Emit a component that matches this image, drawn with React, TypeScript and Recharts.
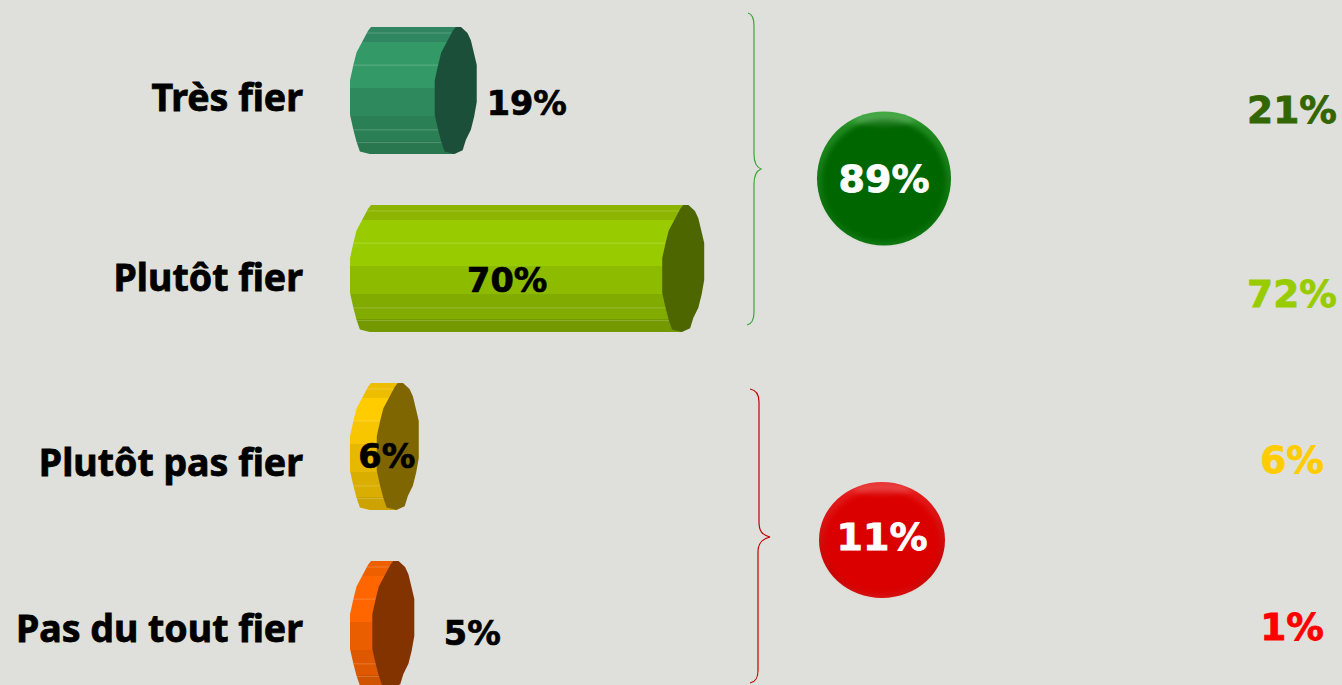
import React from 'react';
import { BarChart, Bar, XAxis, YAxis, LabelList } from 'recharts';

const categories = ['Très fier', 'Plutôt fier', 'Plutôt pas fier', 'Pas du tout fier'];
const currentValues = [19, 70, 6, 5];
const previousValues = [21, 72, 6, 1];
const groupTotals = [89, 11];

const data = categories.map((name, i) => ({
  name,
  value: currentValues[i],
  previous: `${previousValues[i]}%`,
}));

const FONT = '"DejaVu Sans", Verdana, sans-serif';
const LABEL_FONT = '"Noto Sans", Tahoma, sans-serif';
const BG = '#DFE0DB';

const previousColors = ['#336600', '#99CC00', '#FFCC00', '#FF0000'];
const capColors = ['#1C4F39', '#4D6600', '#806600', '#833300'];
const bodyStops = [
  ['#2F8660', '#339966', '#339966', '#2E8A5C', '#2B7F55', '#29774F'],
  ['#8DB500', '#99CC00', '#99CC00', '#8DBB00', '#82AB00', '#749800'],
  ['#EDBE00', '#FFCC00', '#F7C600', '#E6B800', '#D9AE00', '#CCA300'],
  ['#EE5F00', '#FF6600', '#FF6600', '#EB5E00', '#DE5800', '#D05300'],
];
const bandOffsets = [0, 0.12, 0.3, 0.48, 0.7, 0.9, 1];
const highlightLines = [0.047, 0.3, 0.81, 0.91];

// Outline of the faceted cylinder end, normalised (u: -1..1, v: 0..1)
const capOutline: [number, number][] = [
  [0, 0], [0.25, 0], [0.56, 0.047], [0.72, 0.105], [0.875, 0.21], [1, 0.3], [1, 0.59], [0.875, 0.707],
  [0.72, 0.81], [0.48, 0.89], [0.33, 0.97], [-0.06, 1], [-0.53, 0.98], [-0.69, 0.903], [-0.84, 0.81],
  [-1, 0.69], [-1, 0.42], [-0.84, 0.3], [-0.69, 0.2], [-0.38, 0.105], [-0.14, 0.03],
];
const leftFrom = 11; // index where the left half of the outline begins
const CAP_RX = 21;

const tickOffsets = [8, 10, 17, 5];
const previousOffsets = [20, 26, 14, 3];
const valueLabelOffsets = [
  { dx: 71, dy: 12 },
  { dx: -176, dy: 11 },
  { dx: -11, dy: 9 },
  { dx: 79, dy: 8 },
];

const Cylinder = (props: any) => {
  const { x, y, width, height, index } = props;
  const xr = x + width;
  const pt = (cx: number, [u, v]: [number, number]) => `${cx + u * CAP_RX},${y + v * height}`;
  const leftHalf = capOutline.slice(leftFrom).map((p) => pt(x, p));
  const bodyPts = [...leftHalf, pt(x, capOutline[0]), pt(xr, capOutline[0]), `${xr},${y + height / 2}`, pt(xr, capOutline[leftFrom])];
  const capPts = capOutline.map((p) => pt(xr, p));
  const leftEdge = (v: number) => {
    const pts = [...capOutline.slice(leftFrom), capOutline[0]];
    for (let i = 0; i < pts.length - 1; i++) {
      const a = pts[i], b = pts[i + 1];
      if (a[1] >= v && b[1] <= v) {
        const t = a[1] === b[1] ? 0 : (v - a[1]) / (b[1] - a[1]);
        return x + (a[0] + (b[0] - a[0]) * t) * CAP_RX;
      }
    }
    return x - CAP_RX;
  };
  return (
    <g>
      <polygon points={bodyPts.join(' ')} fill={`url(#body${index})`} />
      {highlightLines.map((v) => (
        <line key={v} x1={leftEdge(v)} x2={xr} y1={y + v * height} y2={y + v * height} stroke="#fff" strokeOpacity={0.2} strokeWidth={1} />
      ))}
      <polygon points={capPts.join(' ')} fill={capColors[index]} />
    </g>
  );
};

const CategoryTick = (props: any) => {
  const { y, payload, index } = props;
  return (
    <text x={303} y={y + tickOffsets[index]} dy={13} textAnchor="end" fontFamily={LABEL_FONT} fontWeight={700} fontSize={37.5} fill="#000" stroke="#000" strokeWidth={0.8}>
      {payload.value}
    </text>
  );
};

const PreviousTick = (props: any) => {
  const { y, payload, index } = props;
  const c = previousColors[index];
  return (
    <text x={1292} y={y + previousOffsets[index]} dy={13} textAnchor="middle" fontFamily={FONT} fontWeight={700} fontSize={37.5} fill={c} stroke={c} strokeWidth={0.8}>
      {payload.value}
    </text>
  );
};

const ValueLabel = (props: any) => {
  const { x, y, width, height, value, index } = props;
  const o = valueLabelOffsets[index];
  return (
    <text x={x + width + o.dx} y={y + height / 2 + o.dy} dy={12} textAnchor="middle" fontFamily={FONT} fontWeight={700} fontSize={33.5} fill="#000" stroke="#000" strokeWidth={0.7}>
      {value}%
    </text>
  );
};

const Badge = ({ id, cx, cy, rx, ry, value, textDy }: any) => (
  <g>
    <ellipse cx={cx} cy={cy} rx={rx} ry={ry} fill={`url(#${id}Rim)`} />
    <ellipse cx={cx} cy={cy + 2} rx={rx - 5} ry={ry - 6} fill={`url(#${id}Core)`} filter="url(#soft)" />
    <ellipse cx={cx} cy={cy - ry * 0.87} rx={rx * 0.45} ry={ry * 0.08} fill="#fff" fillOpacity={0.14} filter="url(#soft)" />
    <text x={cx} y={cy + textDy} textAnchor="middle" fontFamily={FONT} fontWeight={700} fontSize={38} fill="#fff" stroke="#fff" strokeWidth={0.8}>
      {value}%
    </text>
  </g>
);

export default function App() {
  return (
    <div style={{ position: 'absolute', left: 0, top: 0, width: 1342, height: 685, overflow: 'hidden', background: BG }}>
      <BarChart
        width={1342}
        height={720}
        data={data}
        layout="vertical"
        margin={{ top: 1, right: 0, bottom: 7, left: 0 }}
        barSize={127}
      >
        <defs>
          {bodyStops.map((stops, i) => (
            <linearGradient key={i} id={`body${i}`} x1="0" y1="0" x2="0" y2="1">
              {stops.map((c, j) => (
                <React.Fragment key={j}>
                  <stop offset={bandOffsets[j]} stopColor={c} />
                  <stop offset={bandOffsets[j + 1]} stopColor={c} />
                </React.Fragment>
              ))}
            </linearGradient>
          ))}
          <linearGradient id="greenRim" x1="0" y1="0" x2="0" y2="1">
            <stop offset="0" stopColor="#3FA83F" />
            <stop offset="0.12" stopColor="#1F8A1F" />
            <stop offset="0.8" stopColor="#0B6F0B" />
            <stop offset="1" stopColor="#0F7A14" />
          </linearGradient>
          <linearGradient id="greenCore" x1="0" y1="0" x2="0" y2="1">
            <stop offset="0" stopColor="#056605" />
            <stop offset="1" stopColor="#056605" />
          </linearGradient>
          <linearGradient id="redRim" x1="0" y1="0" x2="0" y2="1">
            <stop offset="0" stopColor="#E83030" />
            <stop offset="0.12" stopColor="#E31818" />
            <stop offset="0.8" stopColor="#C40404" />
            <stop offset="1" stopColor="#D81212" />
          </linearGradient>
          <linearGradient id="redCore" x1="0" y1="0" x2="0" y2="1">
            <stop offset="0" stopColor="#DB0505" />
            <stop offset="1" stopColor="#DB0505" />
          </linearGradient>
          <filter id="soft" x="-20%" y="-50%" width="140%" height="200%">
            <feGaussianBlur stdDeviation="2.5" />
          </filter>
        </defs>
        <XAxis type="number" domain={[0, 100]} hide />
        <YAxis type="category" dataKey="name" width={371} axisLine={false} tickLine={false} tick={<CategoryTick />} interval={0} />
        <YAxis yAxisId="previous" type="category" dataKey="previous" orientation="right" width={525} axisLine={false} tickLine={false} tick={<PreviousTick />} interval={0} />
        <Bar dataKey="value" isAnimationActive={false} shape={<Cylinder />}>
          <LabelList dataKey="value" content={<ValueLabel />} />
        </Bar>

        <path d="M748,13 C752,14 754,18 754,26 L754,154 C754,162 756,167 761,169 C756,171 754,176 754,184 L754,312 C754,320 752,324 747,325" fill="none" stroke="#3BA53B" strokeWidth={1.2} />
        <path d="M750,389 C756,390 759,394 759,402 L759,522 C759,531 762,535 770,537 C762,539 758,543 758,552 L758,670 C758,678 756,682 750,683" fill="none" stroke="#C00000" strokeWidth={1.2} />

        <Badge id="green" cx={884} cy={178.5} rx={67} ry={67} textDy={13} value={groupTotals[0]} />
        <Badge id="red" cx={882} cy={540} rx={63} ry={58} textDy={10} value={groupTotals[1]} />
      </BarChart>
    </div>
  );
}
